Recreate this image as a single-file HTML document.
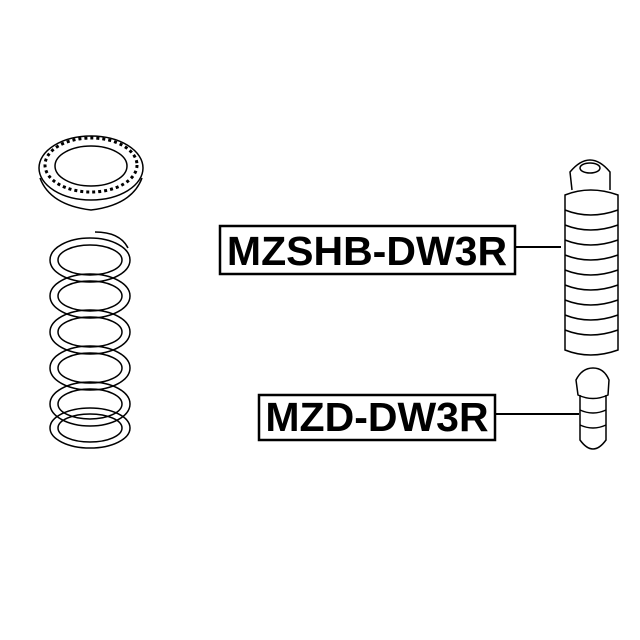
<!DOCTYPE html>
<html><head><style>html,body{margin:0;padding:0;background:#fff}svg{display:block}</style></head>
<body>
<svg width="640" height="640" viewBox="0 0 640 640" xmlns="http://www.w3.org/2000/svg">
<rect width="640" height="640" fill="#fff"/>
<g fill="none" stroke="#000" stroke-width="1.5">
  <!-- mount ring -->
  <ellipse cx="91" cy="168" rx="52" ry="32"/>
  <ellipse cx="91" cy="166" rx="36" ry="20"/>
  <path d="M40 178 Q50 205 91 210 Q132 205 142 178"/>
  <ellipse cx="91" cy="165" rx="46" ry="27" stroke-dasharray="3 3" stroke-width="3"/>
  <!-- spring -->
  <ellipse cx="90" cy="260" rx="40" ry="22"/>
  <ellipse cx="90" cy="260" rx="32" ry="15"/>
  <ellipse cx="90" cy="296" rx="40" ry="22"/>
  <ellipse cx="90" cy="296" rx="32" ry="15"/>
  <ellipse cx="90" cy="332" rx="40" ry="22"/>
  <ellipse cx="90" cy="332" rx="32" ry="15"/>
  <ellipse cx="90" cy="368" rx="40" ry="22"/>
  <ellipse cx="90" cy="368" rx="32" ry="15"/>
  <ellipse cx="90" cy="404" rx="40" ry="22"/>
  <ellipse cx="90" cy="404" rx="32" ry="15"/>
  <ellipse cx="90" cy="428" rx="40" ry="20"/>
  <ellipse cx="90" cy="428" rx="32" ry="14"/>
  <path d="M95 232 Q120 232 128 248"/>
  <!-- boot -->
  <path d="M572 190 L570 172 Q580 160 590 160 Q600 160 610 172 L610 190"/>
  <ellipse cx="590" cy="168" rx="10" ry="5"/>
  <path d="M565 195 L565 350 Q590 360 618 350 L618 195 Q590 185 565 195 Z"/>
  <path d="M565 210 Q590 220 618 210 M565 225 Q590 235 618 225 M565 240 Q590 250 618 240 M565 255 Q590 265 618 255 M565 270 Q590 280 618 270 M565 285 Q590 295 618 285 M565 300 Q590 310 618 300 M565 315 Q590 325 618 315 M565 330 Q590 340 618 330"/>
  <!-- small bumper -->
  <path d="M578 395 L576 380 Q582 368 593 368 Q604 368 609 380 L608 395 Q593 402 578 395 Z"/>
  <path d="M580 395 L580 440 Q593 458 606 440 L606 395"/>
  <path d="M580 410 Q593 416 606 410 M580 425 Q593 431 606 425"/>
</g>
<!-- leaders -->
<line x1="515" y1="247" x2="561" y2="247" stroke="#000" stroke-width="2"/>
<line x1="495" y1="414" x2="579" y2="414" stroke="#000" stroke-width="2"/>
<!-- label boxes -->
<rect x="220" y="226" width="295" height="48" fill="#fff" stroke="#000" stroke-width="2.5"/>
<text x="367" y="265" text-anchor="middle" font-family="Liberation Sans, sans-serif" font-weight="bold" font-size="41">MZSHB-DW3R</text>
<rect x="259" y="395" width="236" height="45" fill="#fff" stroke="#000" stroke-width="2.5"/>
<text x="377" y="431" text-anchor="middle" font-family="Liberation Sans, sans-serif" font-weight="bold" font-size="41">MZD-DW3R</text>
</svg>
</body></html>
